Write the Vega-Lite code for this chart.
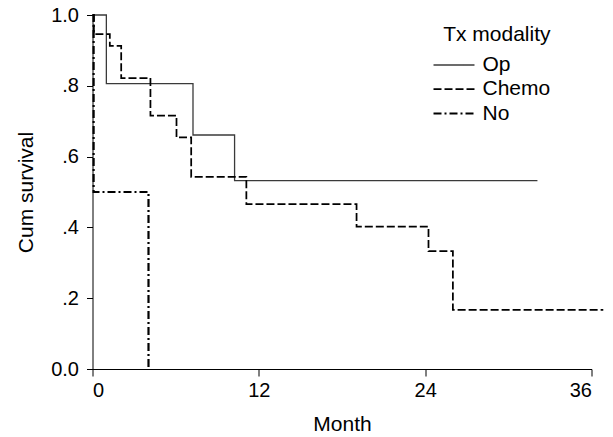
{
  "$schema": "https://vega.github.io/schema/vega-lite/v6.json",
  "width": 499,
  "height": 354,
  "autosize": {"type": "none"},
  "padding": {"left": 92.5, "top": 15, "right": 21.5, "bottom": 68},
  "background": "white",
  "config": {
    "font": "Liberation Sans",
    "view": {"stroke": null},
    "axis": {"grid": false, "domainColor": "#000", "tickColor": "#000", "labelColor": "#000", "titleColor": "#000", "labelFontSize": 20, "titleFontSize": 21, "titleFontWeight": "normal", "tickSize": 7, "domainWidth": 1, "tickWidth": 1},
    "legend": {"padding": 0}
  },
  "data": {
    "values": [
      {"group": "Op", "month": 0, "surv": 1},
      {"group": "Op", "month": 1.0, "surv": 0.806},
      {"group": "Op", "month": 7.25, "surv": 0.661},
      {"group": "Op", "month": 10.25, "surv": 0.532},
      {"group": "Op", "month": 32.1, "surv": 0.532},
      {"group": "Chemo", "month": 0, "surv": 1},
      {"group": "Chemo", "month": 0.1, "surv": 0.946},
      {"group": "Chemo", "month": 1.25, "surv": 0.913},
      {"group": "Chemo", "month": 2.07, "surv": 0.822},
      {"group": "Chemo", "month": 4.18, "surv": 0.716},
      {"group": "Chemo", "month": 6.06, "surv": 0.654},
      {"group": "Chemo", "month": 7.12, "surv": 0.543},
      {"group": "Chemo", "month": 11.1, "surv": 0.466},
      {"group": "Chemo", "month": 19.05, "surv": 0.402},
      {"group": "Chemo", "month": 24.24, "surv": 0.333},
      {"group": "Chemo", "month": 26.0, "surv": 0.167},
      {"group": "Chemo", "month": 36.85, "surv": 0.167},
      {"group": "No", "month": 0, "surv": 1},
      {"group": "No", "month": 0.08, "surv": 0.5},
      {"group": "No", "month": 4.04, "surv": 0}
    ]
  },
  "mark": {"type": "line", "interpolate": "step-after", "clip": false},
  "encoding": {
    "x": {
      "field": "month", "type": "quantitative",
      "scale": {"domain": [0, 36], "nice": false, "zero": false},
      "axis": {"values": [0, 12, 24, 36], "title": "Month", "labelPadding": 4, "titlePadding": 13}
    },
    "y": {
      "field": "surv", "type": "quantitative",
      "scale": {"domain": [0, 1], "nice": false},
      "axis": {"values": [0, 0.2, 0.4, 0.6, 0.8, 1], "title": "Cum survival", "labelPadding": 8, "tickSize": 6, "titlePadding": 14,
        "labelExpr": "datum.value == 0 ? '0.0' : datum.value == 1 ? '1.0' : replace(format(datum.value, '.1f'), '0.', '.')"}
    },
    "strokeDash": {
      "field": "group", "type": "nominal",
      "scale": {"domain": ["Op", "Chemo", "No"], "range": [[1, 0], [8, 3], [8, 3, 2, 3]]},
      "legend": {
        "title": "Tx modality", "orient": "none", "legendX": 350, "legendY": 9,
        "titleFontSize": 21, "titleFontWeight": "normal", "titleColor": "#000", "titleAnchor": "end", "titlePadding": 9,
        "labelFontSize": 21, "labelColor": "#000", "labelOffset": 17, "rowPadding": 2.5,
        "symbolSize": 420, "symbolType": "M-2,0H2"
      }
    },
    "color": {
      "field": "group", "type": "nominal",
      "scale": {"domain": ["Op", "Chemo", "No"], "range": ["#3a3a3a", "#000000", "#000000"]},
      "legend": {
        "title": "Tx modality", "orient": "none", "legendX": 350, "legendY": 9,
        "titleFontSize": 21, "titleFontWeight": "normal", "titleColor": "#000", "titleAnchor": "end", "titlePadding": 9,
        "labelFontSize": 21, "labelColor": "#000", "labelOffset": 17, "rowPadding": 2.5,
        "symbolSize": 420, "symbolType": "M-2,0H2"
      }
    },
    "strokeWidth": {
      "field": "group", "type": "nominal",
      "scale": {"domain": ["Op", "Chemo", "No"], "range": [1.3, 2.2, 2.2]},
      "legend": {
        "title": "Tx modality", "orient": "none", "legendX": 350, "legendY": 9,
        "titleFontSize": 21, "titleFontWeight": "normal", "titleColor": "#000", "titleAnchor": "end", "titlePadding": 9,
        "labelFontSize": 21, "labelColor": "#000", "labelOffset": 17, "rowPadding": 2.5,
        "symbolSize": 420, "symbolType": "M-2,0H2"
      }
    }
  }
}
